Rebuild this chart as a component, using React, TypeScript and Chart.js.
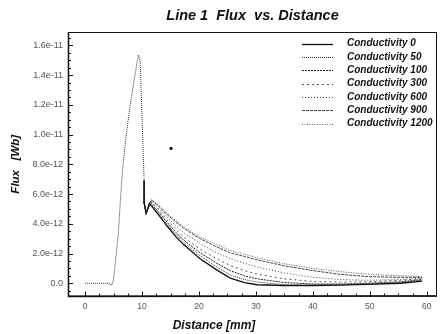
import React, { useEffect, useRef } from 'react';
import { Chart, registerables } from 'chart.js';

Chart.register(...registerables);

// Flux values are in units of 1e-12 Wb, distance in mm
const sharedDistance = [0, 4.3, 4.65, 4.97, 5.4, 5.85, 6.2, 6.62, 7.2, 7.9, 8.6, 9.1, 9.37, 9.67, 9.9, 10.14, 10.37];
const sharedFlux = [0, 0, -0.15, 0.2, 1.7, 3.35, 5.6, 7.8, 9.9, 11.9, 13.6, 14.8, 15.35, 15.0, 12.3, 9.6, 6.9];
const dipDistance = [10.37, 10.72];
const dipFlux = [5.4, 4.7];
const tailDistance = [13, 14.4, 16, 17.3, 20.2, 23.1, 25.5, 28, 30.2, 34.9, 40.1, 44.8, 49.5, 55.4, 59.2];

const seriesNames = [
  'Conductivity 0',
  'Conductivity 50',
  'Conductivity 100',
  'Conductivity 300',
  'Conductivity 600',
  'Conductivity 900',
  'Conductivity 1200',
];
const peakDistance = [11.3, 11.3, 11.4, 11.5, 11.6, 11.7, 11.7];
const peakFlux = [5.37, 5.4, 5.45, 5.5, 5.55, 5.6, 5.63];

const tail0 = [4.55, 3.85, 3.1, 2.6, 1.65, 0.9, 0.35, 0.05, -0.1, -0.15, -0.15, -0.12, -0.08, 0.0, 0.15];
const tail50 = [4.65, 3.95, 3.25, 2.75, 1.85, 1.1, 0.55, 0.25, 0.08, -0.1, -0.12, -0.1, -0.05, 0.05, 0.2];
const tail100 = [4.75, 4.1, 3.4, 2.9, 2.05, 1.35, 0.85, 0.5, 0.3, 0.05, -0.05, -0.05, 0.0, 0.1, 0.25];
const tail300 = [4.9, 4.25, 3.6, 3.1, 2.3, 1.65, 1.2, 0.85, 0.62, 0.3, 0.12, 0.08, 0.1, 0.2, 0.3];
const tail600 = [5.0, 4.45, 3.85, 3.4, 2.67, 2.05, 1.65, 1.35, 1.1, 0.7, 0.4, 0.25, 0.2, 0.25, 0.35];
const tail900 = [5.15, 4.62, 4.1, 3.7, 3.0, 2.45, 2.05, 1.8, 1.58, 1.18, 0.85, 0.6, 0.45, 0.4, 0.4];
const tail1200 = [5.2, 4.7, 4.2, 3.8, 3.1, 2.6, 2.2, 1.95, 1.72, 1.32, 1.0, 0.78, 0.62, 0.5, 0.45];
const tails = [tail0, tail50, tail100, tail300, tail600, tail900, tail1200];

// the shared rising edge is visible as a single dotted trace
const sharedOwnerIndex = 1;

const strayDistance = [15.1];
const strayFlux = [9.07];

const xTickValues = [0, 10, 20, 30, 40, 50, 60];
const xTickLabels = ['0', '10', '20', '30', '40', '50', '60'];
const yTickValues = [0, 2, 4, 6, 8, 10, 12, 14, 16];
const yTickLabels = ['0.0', '2.0e-12', '4.0e-12', '6.0e-12', '8.0e-12', '1.0e-11', '1.2e-11', '1.4e-11', '1.6e-11'];

const dashes: number[][] = [[], [1, 1], [2, 1], [2, 3], [1, 2], [3, 1], [1, 1.5]];
const lineColors = ['#111', '#333', '#222', '#555', '#444', '#444', '#555'];

const FONT = '"Liberation Sans", Arial, sans-serif';

function buildSeries(i: number) {
  const pts: { x: number; y: number }[] = [];
  if (i === sharedOwnerIndex) {
    sharedDistance.forEach((d, k) => pts.push({ x: d, y: sharedFlux[k] }));
  } else {
    pts.push({ x: sharedDistance[sharedDistance.length - 1], y: sharedFlux[sharedFlux.length - 1] });
  }
  dipDistance.forEach((d, k) => pts.push({ x: d, y: dipFlux[k] }));
  pts.push({ x: peakDistance[i], y: peakFlux[i] });
  tailDistance.forEach((d, k) => pts.push({ x: d, y: tails[i][k] }));
  return pts;
}

const decorPlugin = {
  id: 'decor',
  afterDraw(chart: any) {
    const ctx = chart.ctx;
    const { left, right, top, bottom } = chart.chartArea;
    const xs = chart.scales.x;
    const ys = chart.scales.y;
    ctx.save();
    // frame
    ctx.strokeStyle = '#111';
    ctx.lineWidth = 1;
    ctx.strokeRect(left + 0.5, top + 0.5, right - left - 1, bottom - top - 1);
    ctx.lineWidth = 1.5;
    ctx.beginPath();
    ctx.moveTo(left + 0.5, top);
    ctx.lineTo(left + 0.5, bottom);
    ctx.lineTo(right, bottom - 0.5);
    ctx.stroke();
    // ticks inward
    ctx.lineWidth = 1;
    ctx.beginPath();
    for (let v = 0; v <= 60.001; v += 2.5) {
      const px = Math.round(xs.getPixelForValue(v)) + 0.5;
      const len = Math.abs(v % 10) < 0.01 ? 5 : 3;
      ctx.moveTo(px, bottom);
      ctx.lineTo(px, bottom - len);
    }
    for (let v = -0.5; v <= 16.8; v += 0.5) {
      const py = Math.round(ys.getPixelForValue(v)) + 0.5;
      const len = Math.abs(v % 2) < 0.01 ? 5 : 3;
      ctx.moveTo(left, py);
      ctx.lineTo(left + len, py);
    }
    ctx.stroke();
    // x-axis title
    ctx.fillStyle = '#111';
    ctx.font = `italic bold 12px ${FONT}`;
    ctx.textAlign = 'center';
    ctx.textBaseline = 'middle';
    ctx.fillText('Distance [mm]', 214, 326);
    // legend
    ctx.font = `italic bold 10px ${FONT}`;
    ctx.textAlign = 'left';
    seriesNames.forEach((name, i) => {
      const y = 43.5 + i * 13.35;
      ctx.strokeStyle = lineColors[i];
      ctx.lineWidth = i === 0 ? 1.3 : 1;
      ctx.setLineDash(dashes[i]);
      ctx.beginPath();
      ctx.moveTo(302, Math.round(y) + 0.5);
      ctx.lineTo(333, Math.round(y) + 0.5);
      ctx.stroke();
      ctx.setLineDash([]);
      ctx.fillStyle = '#111';
      ctx.fillText(name, 347, y);
    });
    ctx.restore();
  },
};

export default function App() {
  const canvasRef = useRef<HTMLCanvasElement | null>(null);

  useEffect(() => {
    document.body.style.margin = '0';
    const canvas = canvasRef.current;
    if (!canvas) return;
    const datasets: any[] = seriesNames.map((name, i) => ({
      label: name,
      data: buildSeries(i),
      borderColor: lineColors[i],
      borderWidth: i === 0 ? 1.3 : 1,
      borderDash: dashes[i],
      pointRadius: 0,
      tension: 0,
      fill: false,
    }));
    datasets.push({
      label: 'stray',
      data: strayDistance.map((d, k) => ({ x: d, y: strayFlux[k] })),
      showLine: false,
      pointRadius: 1.6,
      pointBackgroundColor: '#111',
      pointBorderWidth: 0,
    });

    const chart = new Chart(canvas, {
      type: 'line',
      data: { datasets },
      options: {
        animation: false,
        responsive: false,
        devicePixelRatio: 1,
        layout: { padding: { left: 0, right: 4, top: 0, bottom: 0 } },
        plugins: {
          legend: { display: false },
          tooltip: { enabled: false },
          title: {
            display: true,
            text: 'Line 1  Flux  vs. Distance',
            fullSize: false,
            color: '#111',
            font: { family: FONT, size: 14.5, style: 'italic', weight: 'bold' },
            padding: { top: 7, bottom: 7.6 },
          },
        },
        scales: {
          x: {
            type: 'linear',
            min: -3,
            max: 61.8,
            grid: { display: false, drawTicks: false },
            border: { display: false },
            afterFit: (s: any) => { s.height = 37.5; },
            afterBuildTicks: (s: any) => { s.ticks = xTickValues.map((v) => ({ value: v })); },
            ticks: {
              autoSkip: false,
              maxRotation: 0,
              padding: 5,
              color: '#555',
              font: { family: FONT, size: 8.5 },
              callback: (_v: any, i: number) => xTickLabels[i],
            },
          },
          y: {
            type: 'linear',
            min: -0.89,
            max: 16.9,
            grid: { display: false, drawTicks: false },
            border: { display: false },
            afterFit: (s: any) => { s.width = 68; },
            afterBuildTicks: (s: any) => { s.ticks = yTickValues.map((v) => ({ value: v })); },
            title: {
              display: true,
              text: 'Flux   [Wb]',
              color: '#111',
              font: { family: FONT, size: 11.5, style: 'italic', weight: 'bold' },
              padding: { top: 9, bottom: 0 },
            },
            ticks: {
              autoSkip: false,
              padding: 5,
              color: '#555',
              font: { family: FONT, size: 9 },
              callback: (_v: any, i: number) => yTickLabels[i],
            },
          },
        },
      },
      plugins: [decorPlugin],
    });
    return () => chart.destroy();
  }, []);

  return (
    <div style={{ position: 'absolute', left: 0, top: 0, width: 441, height: 334, background: '#fff' }}>
      <canvas ref={canvasRef} width={441} height={334} />
    </div>
  );
}
